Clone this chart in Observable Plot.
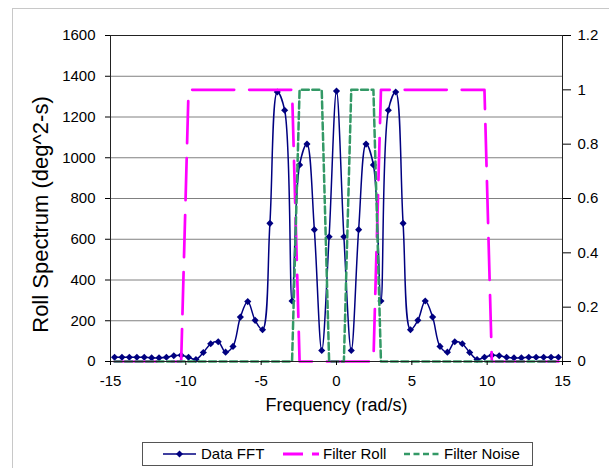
<!DOCTYPE html>
<html><head><meta charset="utf-8">
<script src="https://cdn.jsdelivr.net/npm/d3@7"></script>
<script src="https://cdn.jsdelivr.net/npm/@observablehq/plot@0.6"></script>
<style>
html,body{margin:0;padding:0;background:#fff;overflow:hidden;}
#wrap{position:relative;width:609px;height:468px;font-family:"Liberation Sans",Arial,sans-serif;overflow:hidden;}
#outer{position:absolute;left:12px;top:8px;width:620px;height:480px;border:1px solid #c8c8c8;}
#chart{position:absolute;left:0;top:0;}
#legend{position:absolute;left:142px;top:442px;width:389px;height:22px;border:1px solid #555;background:#fff;font-size:15px;}
.li{position:absolute;top:0;height:22px;line-height:22px;white-space:nowrap;color:#000;}
.ls{position:absolute;top:0;}
</style></head><body>
<div id="wrap"><div id="outer"></div><div id="chart"></div><div id="legend"></div></div>
<script>
const freq = [-14.73,-14.24,-13.75,-13.25,-12.76,-12.27,-11.78,-11.29,-10.80,-10.31,
  -9.82,-9.33,-8.84,-8.35,-7.85,-7.36,-6.87,-6.38,-5.89,-5.40,
  -4.91,-4.42,-3.93,-3.44,-2.95,-2.45,-1.96,-1.47,-0.98,-0.49,
  0,
  0.49,0.98,1.47,1.96,2.45,2.95,3.44,3.93,4.42,4.91,
  5.40,5.89,6.38,6.87,7.36,7.85,8.35,8.84,9.33,9.82,
  10.31,10.80,11.29,11.78,12.27,12.76,13.25,13.75,14.24,14.73];
const fft = [21,21,21,21,21,18,18,21,28,31,
  21,10,44,87,97,46,74,218,294,202,
  156,678,1323,1233,297,965,1067,647,54,612,
  1327,
  612,54,647,1067,965,297,1233,1323,678,156,
  202,297,218,74,46,97,87,44,10,21,
  31,28,21,18,18,21,21,21,21,21];
const filterRoll = [0,0,0,0,0,0,0,0,0,0,
  1,1,1,1,1,1,1,1,1,1,
  1,1,1,1,1,0,0,0,0,0,
  0,
  0,0,0,0,0,1,1,1,1,1,
  1,1,1,1,1,1,1,1,1,1,
  0,0,0,0,0,0,0,0,0,0];
const filterNoise = [0,0,0,0,0,0,0,0,0,0,
  0,0,0,0,0,0,0,0,0,0,
  0,0,0,0,0,1,1,1,1,0,
  0,
  0,1,1,1,1,0,0,0,0,0,
  0,0,0,0,0,0,0,0,0,0,
  0,0,0,0,0,0,0,0,0,0];
const xTicks = [-15,-10,-5,0,5,10,15];
const yTicks = [0,200,400,600,800,1000,1200,1400,1600];
const y2Ticks = [0,0.2,0.4,0.6,0.8,1,1.2];
const xLabel = "Frequency (rad/s)";
const yLabel = "Roll Spectrum (deg^2-s)";
const seriesNames = ["Data FFT","Filter Roll","Filter Noise"];

const Y2 = 1600/1.2; // secondary axis: 1.2 on the right = 1600 on the left
const rows = freq.map((f,i)=>({f, fft: fft[i], roll: filterRoll[i]*Y2, noise: filterNoise[i]*Y2}));
const font = "'Liberation Sans', Arial, sans-serif";

const plot = Plot.plot({
  width: 609, height: 440,
  marginLeft: 110, marginRight: 47, marginTop: 35, marginBottom: 79,
  x: {domain: [-15, 15]},
  y: {domain: [0, 1600]},
  style: {fontFamily: font, fontSize: "15px", color: "#000", background: "transparent", overflow: "visible"},
  marks: [
    Plot.ruleY(yTicks.filter(v => v > 0 && v < 1600), {stroke: "#808080", strokeWidth: 1}),
    Plot.line(rows, {x: "f", y: "fft", stroke: "#000080", strokeWidth: 1.5, curve: "catmull-rom"}),
    Plot.dot(rows, {x: "f", y: "fft", symbol: "diamond2", r: 3.2, fill: "#000080", stroke: "none"}),
    Plot.line(rows, {x: "f", y: "roll", stroke: "#ff00ff", strokeWidth: 2.7, strokeDasharray: "42,15"}),
    Plot.line(rows, {x: "f", y: "noise", stroke: "#339966", strokeWidth: 2.5, strokeDasharray: "7,3.5"}),
    Plot.frame({stroke: "#222", strokeWidth: 1}),
    Plot.axisY(yTicks, {anchor: "left", tickSize: 5, tickPadding: 10, fontSize: 15, label: null, tickFormat: d => String(d)}),
    Plot.axisY(y2Ticks.map(v => v * Y2), {anchor: "right", tickSize: 8, tickPadding: 7, fontSize: 15, label: null,
      tickFormat: d => String(Math.round(d / Y2 * 10) / 10)}),
    Plot.axisX(xTicks, {anchor: "bottom", tickSize: 4, tickPadding: 10, fontSize: 15, label: null, tickFormat: d => String(d)}),
    Plot.text([xLabel], {frameAnchor: "bottom", dy: 49, text: d => d, fontSize: 18, fill: "#000"}),
    Plot.text([yLabel], {frameAnchor: "left", dx: -70, dy: 16, rotate: -90, textAnchor: "middle", text: d => d, fontSize: 22, fill: "#000"})
  ]
});
document.getElementById("chart").appendChild(plot);

// legend
const legendSpec = [
  {name: seriesNames[0], sx: 20, sw: 33, tx: 58, color: "#000080", w: 1.5, dash: null, marker: true},
  {name: seriesNames[1], sx: 140, sw: 36, tx: 180, color: "#ff00ff", w: 3, dash: "20,9", marker: false},
  {name: seriesNames[2], sx: 261, sw: 37, tx: 301, color: "#339966", w: 2.5, dash: "6,3.5", marker: false}
];
const lg = d3.select("#legend");
for (const s of legendSpec) {
  const svg = lg.append("svg").attr("class", "ls").style("left", s.sx + "px")
    .attr("width", s.sw).attr("height", 22);
  svg.append("line").attr("x1", 0).attr("x2", s.sw).attr("y1", 11).attr("y2", 11)
    .attr("stroke", s.color).attr("stroke-width", s.w).attr("stroke-dasharray", s.dash);
  if (s.marker) {
    const c = s.sw / 2;
    svg.append("path").attr("d", `M${c},7.5L${c+3.5},11L${c},14.5L${c-3.5},11Z`).attr("fill", s.color);
  }
  lg.append("div").attr("class", "li").style("left", s.tx + "px").text(s.name);
}
</script>
</body></html>
